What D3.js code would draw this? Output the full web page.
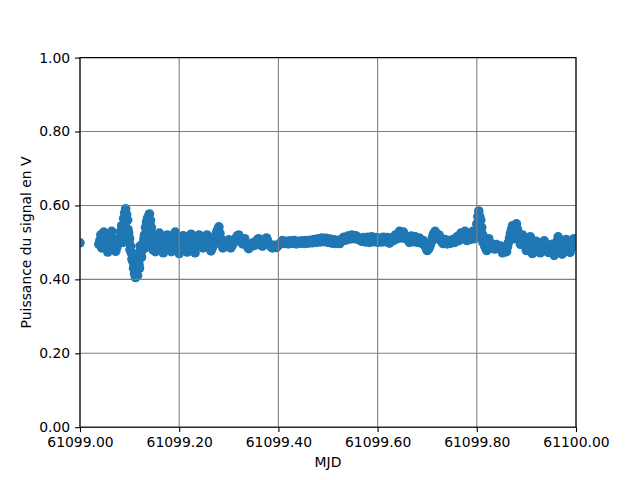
<!DOCTYPE html>
<html><head><meta charset="utf-8">
<script src="https://cdn.jsdelivr.net/npm/d3@7"></script>
<style>body{margin:0;background:#fff} text{font-family:"DejaVu Sans",sans-serif}</style>
</head><body>
<script>
// Regular readings: time = mjdStart + index * mjdStep (null = no reading)
const mjdStart = 61099.0;
const mjdStep = 0.004;
const signal = [
  0.499, null, null, null, null, null, null, null, null, null,
  0.505, 0.485, 0.528, 0.500, 0.474, 0.505, 0.530, 0.498, 0.476, 0.495,
  0.515, 0.545, 0.565, 0.591, 0.560, 0.510, 0.470, 0.430, 0.405, 0.410,
  0.430, 0.460, 0.500, 0.540, 0.565, 0.577, 0.540, 0.500, 0.475, 0.500,
  0.525, 0.495, 0.472, 0.500, 0.520, 0.500, 0.475, 0.505, 0.528, 0.500,
  0.470, 0.495, 0.518, 0.500, 0.474, 0.505, 0.522, 0.495, 0.472, 0.500,
  0.520, 0.497, 0.485, 0.505, 0.520, 0.495, 0.477, 0.490, 0.515, 0.530,
  0.542, 0.510, 0.485, 0.500, 0.490, 0.507, 0.485, 0.495, 0.505, 0.515,
  0.520, 0.505, 0.496, 0.510, 0.495, 0.483, 0.490, 0.498, 0.492, 0.505,
  0.510, 0.495, 0.490, 0.505, 0.512, 0.498, 0.490, 0.485, 0.492, 0.486,
  0.493, 0.498, 0.505, 0.497, 0.503, 0.496, 0.504, 0.498, 0.505, 0.496,
  0.503, 0.498, 0.504, 0.497, 0.505, 0.498, 0.506, 0.499, 0.508, 0.500,
  0.510, 0.501, 0.512, 0.502, 0.511, 0.500, 0.509, 0.498, 0.507, 0.497,
  0.506, 0.497, 0.508, 0.514, 0.506, 0.517, 0.509, 0.520, 0.510, 0.518,
  0.508, 0.512, 0.503, 0.513, 0.501, 0.514, 0.500, 0.515, 0.502, 0.513,
  0.500, 0.512, 0.501, 0.514, 0.502, 0.513, 0.498, 0.512, 0.505, 0.520,
  0.510, 0.530, 0.512, 0.528, 0.510, 0.516, 0.500, 0.517, 0.502, 0.515,
  0.500, 0.512, 0.498, 0.505, 0.490, 0.478, 0.485, 0.500, 0.520, 0.530,
  0.510, 0.520, 0.505, 0.497, 0.508, 0.496, 0.505, 0.498, 0.508, 0.500,
  0.515, 0.505, 0.525, 0.510, 0.530, 0.505, 0.522, 0.508, 0.530, 0.510,
  0.550, 0.585, 0.560, 0.520, 0.490, 0.478, 0.510, 0.485, 0.495, 0.482,
  0.494, 0.483, 0.490, 0.472, 0.488, 0.475, 0.500, 0.525, 0.545, 0.510,
  0.550, 0.520, 0.495, 0.520, 0.500, 0.478, 0.495, 0.515, 0.470, 0.488,
  0.503, 0.485, 0.472, 0.490, 0.504, 0.487, 0.473, 0.480, 0.495, 0.465,
  0.490, 0.515, 0.480, 0.468, 0.490, 0.508, 0.490, 0.473, 0.495, 0.510,
  0.490
];
// Interleaved readings: time = mjdStart + mjdStep/2 + index * mjdStep
const signalB = [
  null, null, null, null, null, null, null, null, null, 0.495,
  0.520, 0.500, 0.510, 0.485, 0.490, 0.515, 0.510, 0.485, 0.485, 0.505,
  0.530, 0.510, 0.580, 0.575, 0.525, 0.490, 0.450, 0.415, 0.425, 0.450,
  0.470, 0.480, 0.520, 0.555, 0.570, 0.560, 0.520, 0.490, 0.485, 0.510,
  0.510, 0.485, 0.485, 0.510, 0.512, 0.488, 0.490, 0.518, 0.515, 0.485,
  0.480, 0.508, 0.510, 0.487, 0.490, 0.515, 0.510, 0.483, 0.487, 0.510,
  0.508, 0.490, 0.495, 0.512, 0.508, 0.485, 0.483, 0.500, 0.520, 0.535,
  0.525, 0.497, 0.490, 0.495, 0.498, 0.495, 0.490, 0.500, 0.510, 0.518,
  0.512, 0.500, 0.503, 0.500, 0.488, 0.486, 0.494, 0.495, 0.498, 0.507,
  0.503, 0.492, 0.498, 0.508, 0.505, 0.494, 0.488, 0.488, 0.489, 0.490,
  0.495, 0.501, 0.501, 0.500, 0.499, 0.500, 0.501, 0.501, 0.500, 0.499,
  0.500, 0.501, 0.500, 0.501, 0.501, 0.502, 0.502, 0.503, 0.504, 0.505,
  0.505, 0.506, 0.507, 0.506, 0.505, 0.504, 0.503, 0.502, 0.502, 0.501,
  0.502, 0.503, 0.511, 0.510, 0.511, 0.513, 0.514, 0.515, 0.514, 0.513,
  0.510, 0.507, 0.508, 0.507, 0.507, 0.507, 0.508, 0.508, 0.507, 0.506,
  0.506, 0.506, 0.508, 0.508, 0.507, 0.505, 0.505, 0.508, 0.512, 0.515,
  0.520, 0.521, 0.520, 0.519, 0.513, 0.508, 0.509, 0.509, 0.508, 0.507,
  0.506, 0.505, 0.501, 0.497, 0.484, 0.481, 0.492, 0.510, 0.525, 0.520,
  0.515, 0.512, 0.501, 0.502, 0.502, 0.500, 0.501, 0.503, 0.504, 0.507,
  0.510, 0.515, 0.518, 0.520, 0.518, 0.513, 0.515, 0.519, 0.520, 0.530,
  0.570, 0.570, 0.540, 0.505, 0.484, 0.494, 0.497, 0.490, 0.488, 0.488,
  0.488, 0.486, 0.481, 0.480, 0.482, 0.488, 0.512, 0.535, 0.528, 0.530,
  0.535, 0.507, 0.508, 0.510, 0.488, 0.486, 0.505, 0.492, 0.479, 0.495,
  0.494, 0.478, 0.481, 0.497, 0.495, 0.480, 0.476, 0.488, 0.480, 0.477,
  0.503, 0.498, 0.474, 0.479, 0.499, 0.499, 0.481, 0.484, 0.503, 0.500
];
// Extra readings in the more agitated stretches
const extraMjd = [
  61099.0847, 61099.0867, 61099.0887, 61099.0907, 61099.0927, 61099.0927, 61099.0947, 61099.0968, 61099.0988,
  61099.1008, 61099.1048, 61099.1089, 61099.1109, 61099.1129, 61099.1149, 61099.1169, 61099.1190, 61099.1210, 61099.1230, 61099.1250,
  61099.1290, 61099.1310, 61099.1331, 61099.1351, 61099.1371, 61099.1391, 61099.1411, 61099.1431, 61099.1452, 61099.1472, 61099.1492,
  61099.2762, 61099.2802, 61099.2843,
  61099.8004, 61099.8044, 61099.8044, 61099.8085, 61099.8125, 61099.8165, 61099.8206,
  61099.8750, 61099.8790, 61099.8831, 61099.8891, 61099.9052
];
const extraSignal = [
  0.530, 0.500, 0.535, 0.520, 0.565, 0.540, 0.515, 0.535, 0.500,
  0.480, 0.455, 0.440, 0.420, 0.430, 0.450, 0.470, 0.440, 0.490, 0.460, 0.480,
  0.510, 0.485, 0.520, 0.500, 0.545, 0.520, 0.550, 0.495, 0.515, 0.480, 0.495,
  0.500, 0.515, 0.495,
  0.525, 0.550, 0.520, 0.535, 0.500, 0.495, 0.500,
  0.530, 0.535, 0.510, 0.505, 0.490
];
const xTicks = [61099.0, 61099.2, 61099.4, 61099.6, 61099.8, 61100.0];
const yTicks = [0.0, 0.2, 0.4, 0.6, 0.8, 1.0];
const xLabel = "MJD";
const yLabel = "Puissance du signal en V";

const W = 640, H = 480;
const m = {left: 80, right: 576, top: 57.6, bottom: 427.2};
const x = d3.scaleLinear().domain([61099.0, 61100.0]).range([m.left, m.right]);
const y = d3.scaleLinear().domain([0, 1]).range([m.bottom, m.top]);

const points = [];
signal.forEach((v, i) => { if (v !== null) points.push([mjdStart + i * mjdStep, v]); });
signalB.forEach((v, i) => { if (v !== null) points.push([mjdStart + mjdStep / 2 + i * mjdStep, v]); });
extraMjd.forEach((t, i) => points.push([t, extraSignal[i]]));

const svg = d3.select("body").append("svg").attr("width", W).attr("height", H);
svg.append("rect").attr("width", W).attr("height", H).attr("fill", "#fff");
svg.append("defs").append("clipPath").attr("id", "clip")
  .append("rect").attr("x", m.left).attr("y", m.top)
  .attr("width", m.right - m.left).attr("height", m.bottom - m.top);

svg.append("g").attr("clip-path", "url(#clip)")
  .selectAll("circle").data(points).join("circle")
  .attr("cx", d => x(d[0])).attr("cy", d => y(d[1])).attr("r", 4.8)
  .attr("fill", "#1f77b4");

// grid (on top of scatter, like matplotlib)
const grid = svg.append("g");
grid.selectAll("line.gx").data(xTicks).join("line")
  .attr("x1", d => x(d)).attr("x2", d => x(d)).attr("y1", m.top).attr("y2", m.bottom)
  .attr("stroke", "#808080").attr("stroke-width", 1.1);
grid.selectAll("line.gy").data(yTicks).join("line")
  .attr("y1", d => y(d)).attr("y2", d => y(d)).attr("x1", m.left).attr("x2", m.right)
  .attr("stroke", "#808080").attr("stroke-width", 1.1);

const xAxis = svg.append("g").attr("transform", `translate(0,${m.bottom})`)
  .call(d3.axisBottom(x).tickValues(xTicks).tickFormat(d3.format(".2f")).tickSizeOuter(0).tickSize(4.9).tickPadding(4.9));
const yAxis = svg.append("g").attr("transform", `translate(${m.left},0)`)
  .call(d3.axisLeft(y).tickValues(yTicks).tickFormat(d3.format(".2f")).tickSizeOuter(0).tickSize(4.9).tickPadding(4.9));
[xAxis, yAxis].forEach(a => {
  a.select(".domain").remove();
  a.selectAll("line").attr("stroke", "#000").attr("stroke-width", 1.1);
  a.selectAll("text").attr("font-size", "13.9px").attr("fill", "#000").attr("font-family", "DejaVu Sans");
});

svg.append("rect").attr("x", m.left).attr("y", m.top)
  .attr("width", m.right - m.left).attr("height", m.bottom - m.top)
  .attr("fill", "none").attr("stroke", "#000").attr("stroke-width", 1.1);

svg.append("text").attr("x", (m.left + m.right) / 2).attr("y", 467)
  .attr("text-anchor", "middle").attr("font-size", "13.9px").text(xLabel);
svg.append("text").attr("transform", `translate(31,${(m.top + m.bottom) / 2}) rotate(-90)`)
  .attr("text-anchor", "middle").attr("font-size", "13.9px").text(yLabel);
</script>
</body></html>
